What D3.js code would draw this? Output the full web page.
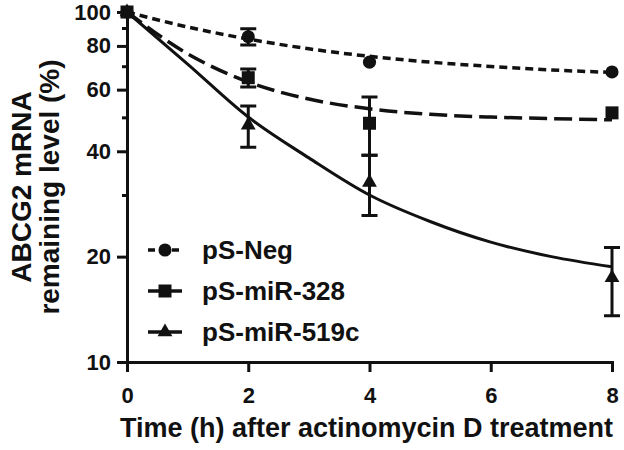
<!DOCTYPE html>
<html>
<head>
<meta charset="utf-8">
<script src="https://cdn.jsdelivr.net/npm/d3@7"></script>
<style>
  body { margin: 0; background: #fff; }
  svg { display: block; font-family: "Liberation Sans", Arial, sans-serif; font-weight: bold; }
</style>
</head>
<body>
<svg id="chart" width="624" height="450"></svg>
<script>
const times = [0, 2, 4, 8];
const fitTimes = [0, 1, 2, 3, 4, 5, 6, 7, 8];

const seriesNames = ['pS-Neg', 'pS-miR-328', 'pS-miR-519c'];

const negMean = [100, 85, 71.9, 67.4];
const negSd = [0, 4.5, 0, 0];
const negFit = [100, 90.6, 83.7, 78.5, 74.7, 71.9, 69.9, 68.3, 67.2];

const mir328Mean = [100, 64.9, 48.1, 51.5];
const mir328Sd = [0, 3.8, 9.1, 0];
const mir328Fit = [100, 76, 63.1, 56.4, 52.9, 51, 50.1, 49.6, 49.2];

const mir519cMean = [100, 47.5, 32.6, 17.4];
const mir519cSd = [0, 6.4, 6.4, 3.85];
const mir519cFit = [100, 71, 50.1, 38.3, 30, 25.2, 22, 20, 18.7];

const yMajorTicks = [10, 20, 40, 60, 80, 100];
const yMinorTicks = [30, 50, 70, 90];
const xTicks = [0, 2, 4, 6, 8];

const ink = '#111';
const margin = { top: 12, right: 12, bottom: 88, left: 127 };
const width = 624 - margin.left - margin.right;
const height = 450 - margin.top - margin.bottom;

const series = [
  { name: seriesNames[2], mean: mir519cMean, sd: mir519cSd, fit: mir519cFit, shape: d3.symbolTriangle, size: 95, dash: null },
  { name: seriesNames[0], mean: negMean, sd: negSd, fit: negFit, shape: d3.symbolCircle, size: 135, dash: '8,5' },
  { name: seriesNames[1], mean: mir328Mean, sd: mir328Sd, fit: mir328Fit, shape: d3.symbolSquare, size: 169, dash: '18,7' },
];

const x = d3.scaleLinear().domain([0, 8]).range([0, width]);
const y = d3.scaleLog().domain([10, 100]).range([height, 0]);

const svg = d3.select('#chart')
  .append('g')
  .attr('transform', `translate(${margin.left}, ${margin.top})`);

const line = d3.line()
  .x((d, i) => x(fitTimes[i]))
  .y(d => y(d))
  .curve(d3.curveMonotoneX);

// fitted curves
svg.selectAll('.fit')
  .data(series)
  .enter()
  .append('path')
  .attr('class', 'fit')
  .attr('d', d => line(d.fit))
  .attr('fill', 'none')
  .attr('stroke', ink)
  .attr('stroke-width', d => (d.dash ? 3.5 : 3))
  .attr('stroke-dasharray', d => d.dash);

// error bars + markers
const groups = svg.selectAll('.series')
  .data(series)
  .enter()
  .append('g')
  .attr('class', 'series');

groups.each(function (s) {
  const g = d3.select(this);
  const pts = times.map((t, i) => ({ t, m: s.mean[i], sd: s.sd[i] }));
  const withErr = pts.filter(p => p.sd > 0);

  g.selectAll('.err')
    .data(withErr)
    .enter()
    .append('path')
    .attr('class', 'err')
    .attr('d', (p) => {
      const cx = x(p.t);
      const y1 = y(p.m + p.sd);
      const y2 = y(p.m - p.sd);
      return `M${cx},${y1}V${y2}M${cx - 8},${y1}H${cx + 8}M${cx - 8},${y2}H${cx + 8}`;
    })
    .attr('fill', 'none')
    .attr('stroke', ink)
    .attr('stroke-width', 3);

  g.selectAll('.mark')
    .data(pts)
    .enter()
    .append('path')
    .attr('class', 'mark')
    .attr('transform', p => `translate(${x(p.t)}, ${y(p.m)})`)
    .attr('d', d3.symbol().type(s.shape).size(s.size))
    .attr('fill', ink);
});

// axes
const yAxis = svg.append('g')
  .attr('class', 'y axis')
  .call(d3.axisLeft(y)
    .tickValues(yMajorTicks)
    .tickFormat(d3.format('d'))
    .tickSize(10)
    .tickSizeOuter(0)
    .tickPadding(6));

svg.append('g')
  .attr('class', 'y minor')
  .call(d3.axisLeft(y)
    .tickValues(yMinorTicks)
    .tickFormat('')
    .tickSize(5)
    .tickSizeOuter(0))
  .select('.domain')
  .remove();

const xAxis = svg.append('g')
  .attr('class', 'x axis')
  .attr('transform', `translate(0, ${height})`)
  .call(d3.axisBottom(x)
    .tickValues(xTicks)
    .tickSize(10)
    .tickSizeOuter(0)
    .tickPadding(15));

svg.selectAll('.axis .domain, .axis .tick line, .minor .tick line')
  .attr('stroke', ink)
  .attr('stroke-width', 3);

svg.selectAll('.axis .tick text')
  .attr('fill', ink)
  .style('font-size', '22px')
  .style('font-family', '"Liberation Sans", Arial, sans-serif')
  .style('font-weight', 'bold');

yAxis.select('.domain').attr('stroke-linecap', 'square');
xAxis.select('.domain').attr('stroke-linecap', 'square');

// axis titles
svg.append('text')
  .attr('x', width / 2 - 3)
  .attr('y', height + 75)
  .attr('text-anchor', 'middle')
  .attr('fill', ink)
  .style('font-size', '27px')
  .text('Time (h) after actinomycin D treatment');

const yTitle = svg.append('text')
  .attr('transform', `translate(${31 - margin.left}, ${height / 2}) rotate(-90)`)
  .attr('text-anchor', 'middle')
  .attr('fill', ink)
  .style('font-size', '28px');

yTitle.append('tspan')
  .attr('x', 0)
  .attr('y', 0)
  .text('ABCG2 mRNA');

yTitle.append('tspan')
  .attr('x', 0)
  .attr('y', 28)
  .text('remaining level (%)');

// legend
const legendOrder = [series[1], series[2], series[0]];
const legend = svg.selectAll('.legend')
  .data(legendOrder)
  .enter()
  .append('g')
  .attr('class', 'legend')
  .attr('transform', (d, i) => `translate(${148 - margin.left}, ${250 - margin.top + i * 41})`);

legend.append('line')
  .attr('x1', 0)
  .attr('x2', 34)
  .attr('stroke', ink)
  .attr('stroke-width', 3.5)
  .attr('stroke-dasharray', d => (d.dash === '8,5' ? '7,5' : null));

legend.append('path')
  .attr('transform', 'translate(17, 0)')
  .attr('d', d => d3.symbol().type(d.shape).size(d.size)())
  .attr('fill', ink);

legend.append('text')
  .attr('x', 54)
  .attr('dy', '0.36em')
  .attr('fill', ink)
  .style('font-size', '26px')
  .text(d => d.name);
</script>
</body>
</html>
